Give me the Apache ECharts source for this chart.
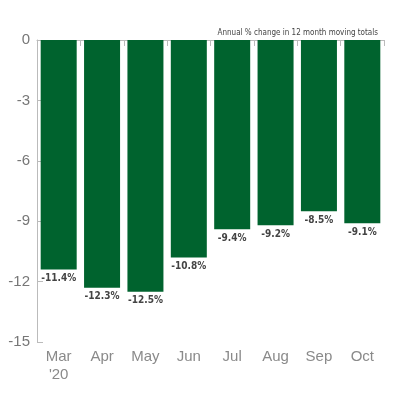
<!DOCTYPE html>
<html>
<head>
<meta charset="utf-8">
<script src="https://cdn.jsdelivr.net/npm/echarts@6/dist/echarts.min.js"></script>
<style>html,body{margin:0;padding:0;background:#fff}#chart{width:400px;height:400px}</style>
</head>
<body>
<div id="chart"></div>
<script>
var months = ["Mar\n'20", "Apr", "May", "Jun", "Jul", "Aug", "Sep", "Oct"];
var changes = [-11.4, -12.3, -12.5, -10.8, -9.4, -9.2, -8.5, -9.1];
var chartTitle = "Annual % change in 12 month moving totals";

var chart = echarts.init(document.getElementById('chart'));
chart.setOption({
  animation: false,
  title: {
    text: chartTitle,
    right: 17, top: 24,
    textStyle: { fontSize: 8, fontWeight: 'normal', color: '#444', fontFamily: 'DejaVu Sans Condensed, sans-serif' }
  },
  grid: { left: 37, right: 16, top: 40, bottom: 58 },
  xAxis: [{
    type: 'category', data: months, position: 'bottom',
    axisLine: { show: false }, axisTick: { show: false },
    axisLabel: { color: '#8a8a8a', fontSize: 15, lineHeight: 18, margin: 6, fontFamily: 'Liberation Sans, sans-serif' }
  }, {
    type: 'category', data: months, position: 'top',
    axisLine: { show: true, onZero: false, lineStyle: { color: '#bbb', width: 1 } },
    axisTick: { show: true, inside: true, length: 6, lineStyle: { color: '#bbb' } },
    axisLabel: { show: false }
  }],
  yAxis: {
    type: 'value', min: -15, max: 0, interval: 3,
    axisLine: { show: true, lineStyle: { color: '#bbb' } },
    axisTick: { show: true, inside: true, length: 6, lineStyle: { color: '#bbb' } },
    splitLine: { show: false },
    axisLabel: { color: '#777', fontSize: 15, margin: 7, fontFamily: 'Liberation Sans, sans-serif' }
  },
  series: [{
    type: 'bar', data: changes, barCategoryGap: '17%',
    itemStyle: { color: '#00632e' },
    label: {
      show: true, position: 'bottom', distance: 4,
      formatter: function (p) { return p.value.toFixed(1) + '%'; },
      color: '#444', fontSize: 10, fontWeight: 'bold',
      fontFamily: 'DejaVu Sans Condensed, sans-serif'
    }
  }]
});
</script>
</body>
</html>
